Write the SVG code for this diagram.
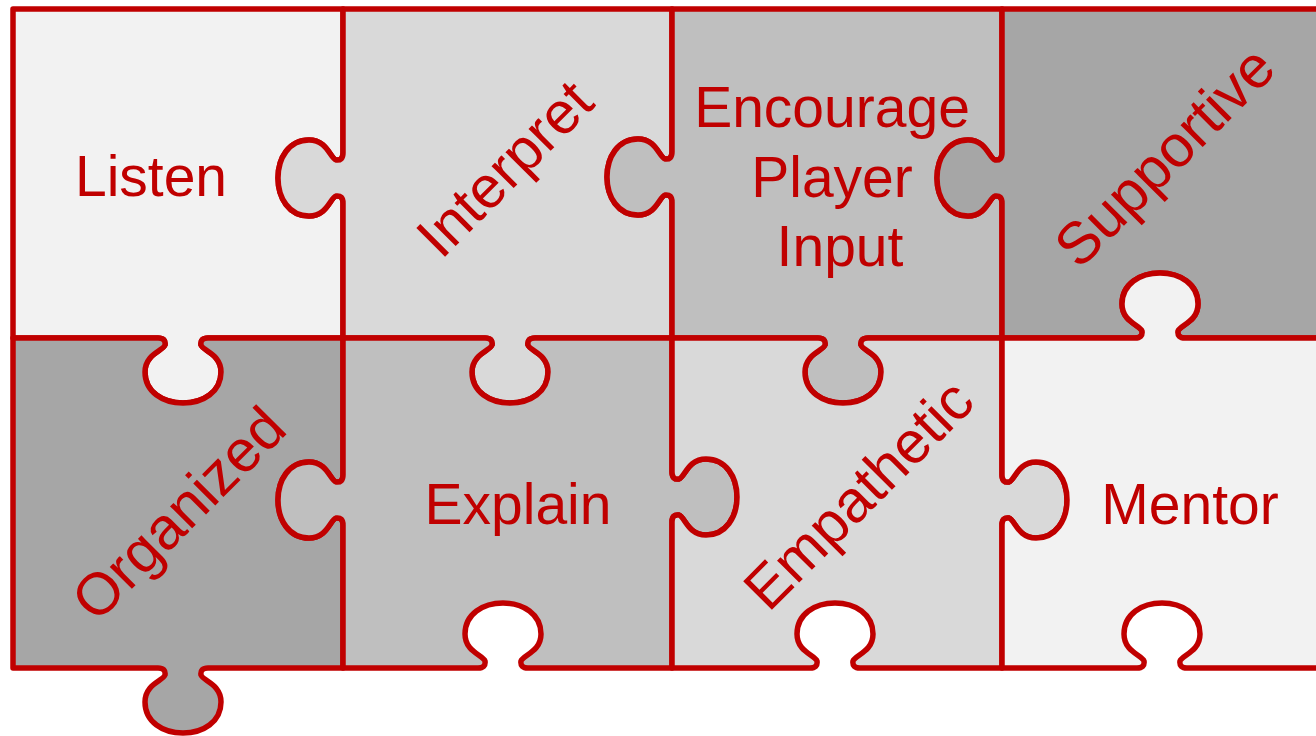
<svg xmlns="http://www.w3.org/2000/svg" width="1316" height="736" viewBox="0 0 1316 736">
<style>
.pc{stroke:#C00000;stroke-width:5.5;stroke-linejoin:round}
.c1{fill:#F2F2F2}.c2{fill:#D9D9D9}.c3{fill:#BFBFBF}.c4{fill:#A6A6A6}
.t{font-family:"Liberation Sans",Arial,sans-serif;font-size:57px;fill:#C00000;text-anchor:middle}
.r{font-size:59px}
</style>
<rect width="1316" height="736" fill="#FFFFFF"/>
<g id="connectors"></g>
<g id="listen">
<path class="pc c1" d="M13,9 L343,9 L343,153 Q343,161 336,160 C330,158 327,140 309,140 C289,140 278,158 278,178 C278,198 289,216 309,216 C327,216 330,198 336,196 Q343,195 343,203 L343,338 L208,338 Q200,338 201,345 C203,351 221,354 221,372 C221,392 203,403 183,403 C163,403 145,392 145,372 C145,354 163,351 165,345 Q166,338 158,338 L13,338 Z"/>
<text class="t" x="151" y="196">Listen</text>
</g>
<g id="interpret">
<path class="pc c2" d="M343,9 L672,9 L672,152 Q672,160 665,159 C659,157 656,139 638,139 C618,139 607,157 607,177 C607,197 618,215 638,215 C656,215 659,197 665,195 Q672,194 672,202 L672,338 L535,338 Q527,338 528,345 C530,351 548,354 548,372 C548,392 530,403 510,403 C490,403 472,392 472,372 C472,354 490,351 492,345 Q493,338 485,338 L343,338 L343,203 Q343,195 336,196 C330,198 327,216 309,216 C289,216 278,198 278,178 C278,158 289,140 309,140 C327,140 330,158 336,160 Q343,161 343,153 Z"/>
<text class="t r" transform="translate(504,168) rotate(-45)" x="0" y="21">Interpret</text>
</g>
<g id="encourage">
<path class="pc c3" d="M672,9 L1002,9 L1002,153 Q1002,161 995,160 C989,158 986,140 968,140 C948,140 937,158 937,178 C937,198 948,216 968,216 C986,216 989,198 995,196 Q1002,195 1002,203 L1002,338 L868,338 Q860,338 861,345 C863,351 881,354 881,372 C881,392 863,403 843,403 C823,403 805,392 805,372 C805,354 823,351 825,345 Q826,338 818,338 L672,338 L672,202 Q672,194 665,195 C659,197 656,215 638,215 C618,215 607,197 607,177 C607,157 618,139 638,139 C656,139 659,157 665,159 Q672,160 672,152 Z"/>
<text class="t" x="832" y="127">Encourage</text>
<text class="t" x="832" y="197">Player</text>
<text class="t" x="840" y="266">Input</text>
</g>
<g id="supportive">
<path class="pc c4" d="M1002,9 L1340,9 L1340,338 L1185,338 Q1177,338 1178,331 C1180,325 1198,322 1198,304 C1198,284 1180,273 1160,273 C1140,273 1122,284 1122,304 C1122,322 1140,325 1142,331 Q1143,338 1135,338 L1002,338 L1002,203 Q1002,195 995,196 C989,198 986,216 968,216 C948,216 937,198 937,178 C937,158 948,140 968,140 C986,140 989,158 995,160 Q1002,161 1002,153 Z"/>
<text class="t r" transform="translate(1164,156) rotate(-45)" x="0" y="21">Supportive</text>
</g>
<g id="organized">
<path class="pc c4" d="M13,338 L158,338 Q166,338 165,345 C163,351 145,354 145,372 C145,392 163,403 183,403 C203,403 221,392 221,372 C221,354 203,351 201,345 Q200,338 208,338 L343,338 L343,475 Q343,483 336,482 C330,480 327,462 309,462 C289,462 278,480 278,500 C278,520 289,538 309,538 C327,538 330,520 336,518 Q343,517 343,525 L343,668 L208,668 Q200,668 201,675 C203,681 221,684 221,702 C221,722 203,733 183,733 C163,733 145,722 145,702 C145,684 163,681 165,675 Q166,668 158,668 L13,668 Z"/>
<text class="t r" transform="translate(178,513) rotate(-45)" x="0" y="21">Organized</text>
</g>
<g id="explain">
<path class="pc c3" d="M343,338 L485,338 Q493,338 492,345 C490,351 472,354 472,372 C472,392 490,403 510,403 C530,403 548,392 548,372 C548,354 530,351 528,345 Q527,338 535,338 L672,338 L672,472 Q672,480 679,479 C685,477 688,459 706,459 C726,459 737,477 737,497 C737,517 726,535 706,535 C688,535 685,517 679,515 Q672,514 672,522 L672,668 L528,668 Q520,668 521,661 C523,655 541,652 541,634 C541,614 523,603 503,603 C483,603 465,614 465,634 C465,652 483,655 485,661 Q486,668 478,668 L343,668 L343,525 Q343,517 336,518 C330,520 327,538 309,538 C289,538 278,520 278,500 C278,480 289,462 309,462 C327,462 330,480 336,482 Q343,483 343,475 Z"/>
<text class="t" x="518" y="524">Explain</text>
</g>
<g id="empathetic">
<path class="pc c2" d="M672,338 L818,338 Q826,338 825,345 C823,351 805,354 805,372 C805,392 823,403 843,403 C863,403 881,392 881,372 C881,354 863,351 861,345 Q860,338 868,338 L1002,338 L1002,475 Q1002,483 1009,482 C1015,480 1018,462 1036,462 C1056,462 1067,480 1067,500 C1067,520 1056,538 1036,538 C1018,538 1015,520 1009,518 Q1002,517 1002,525 L1002,668 L860,668 Q852,668 853,661 C855,655 873,652 873,634 C873,614 855,603 835,603 C815,603 797,614 797,634 C797,652 815,655 817,661 Q818,668 810,668 L672,668 L672,522 Q672,514 679,515 C685,517 688,535 706,535 C726,535 737,517 737,497 C737,477 726,459 706,459 C688,459 685,477 679,479 Q672,480 672,472 Z"/>
<text class="t r" transform="translate(858,494) rotate(-45)" x="0" y="21">Empathetic</text>
</g>
<g id="mentor">
<path class="pc c1" d="M1002,338 L1135,338 Q1143,338 1142,331 C1140,325 1122,322 1122,304 C1122,284 1140,273 1160,273 C1180,273 1198,284 1198,304 C1198,322 1180,325 1178,331 Q1177,338 1185,338 L1340,338 L1340,668 L1187,668 Q1179,668 1180,661 C1182,655 1200,652 1200,634 C1200,614 1182,603 1162,603 C1142,603 1124,614 1124,634 C1124,652 1142,655 1144,661 Q1145,668 1137,668 L1002,668 L1002,525 Q1002,517 1009,518 C1015,520 1018,538 1036,538 C1056,538 1067,520 1067,500 C1067,480 1056,462 1036,462 C1018,462 1015,480 1009,482 Q1002,483 1002,475 Z"/>
<text class="t" x="1190" y="524">Mentor</text>
</g>
</svg>
